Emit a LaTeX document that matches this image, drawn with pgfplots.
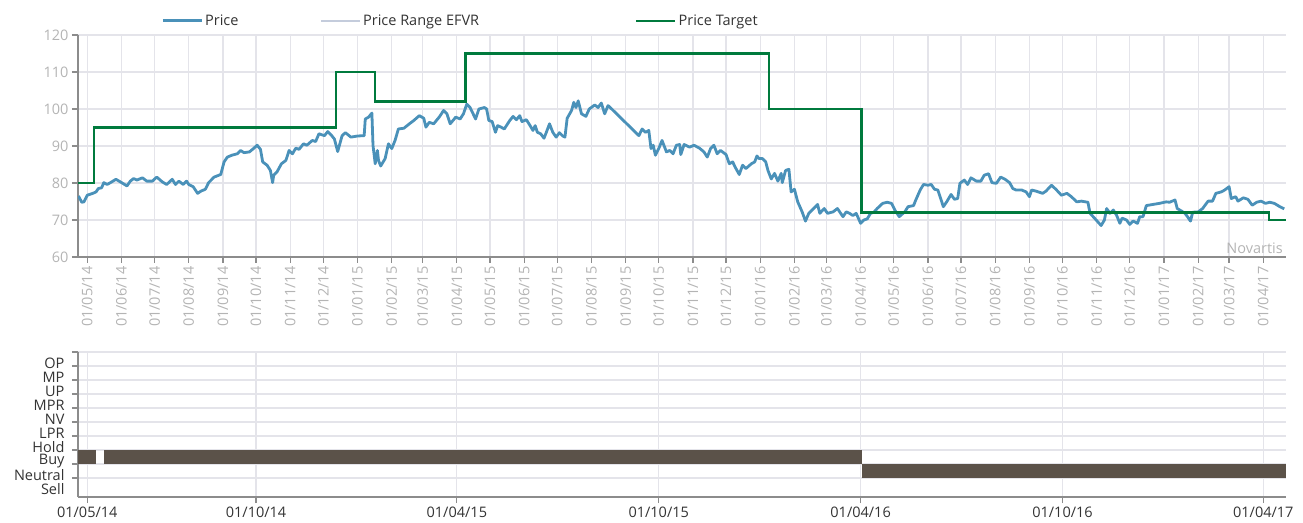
\documentclass[border=0pt]{standalone}
\usepackage{pgfplots}
\pgfplotsset{compat=1.18}
\usepackage{fontspec}
\setmainfont{Open Sans}
\definecolor{pricecol}{RGB}{74,145,185}
\definecolor{targetcol}{RGB}{0,122,61}
\definecolor{rangecol}{RGB}{196,204,220}
\definecolor{gridcol}{RGB}{228,228,234}
\definecolor{axiscol}{RGB}{140,140,140}
\definecolor{lblgray}{RGB}{180,180,180}
\definecolor{lbldark}{RGB}{51,51,51}
\definecolor{barcol}{RGB}{91,82,73}
\newcommand\fs{\fontsize{14.5}{17}\selectfont}
\begin{document}
\begin{tikzpicture}[x=1pt,y=1pt]
\useasboundingbox (0,0) rectangle (1303,522);
\begin{axis}[
  at={(78pt,265pt)}, anchor=south west,
  scale only axis, width=1208pt, height=222pt,
  xmin=-8.4, xmax=1086.6, ymin=60, ymax=120,
  axis x line*=bottom, axis y line*=left,
  axis line style={axiscol, line width=1.2pt},
  tick style={axiscol, line width=1.2pt},
  tick align=outside, major tick length=6pt,
  grid=major, major grid style={gridcol, line width=1.3pt},
  ytick={60,70,...,120},
  yticklabel style={font=\fs, text=lblgray},
  /pgf/number format/assume math mode=true,
  xtick={0,31,61,92,123,153,184,214,245,276,304,335,365,396,426,457,488,518,549,579,610,641,670,701,731,762,792,823,854,884,915,945,976,1007,1035,1066},
  xticklabels={01/05/14,01/06/14,01/07/14,01/08/14,01/09/14,01/10/14,01/11/14,01/12/14,01/01/15,01/02/15,01/03/15,01/04/15,01/05/15,01/06/15,01/07/15,01/08/15,01/09/15,01/10/15,01/11/15,01/12/15,01/01/16,01/02/16,01/03/16,01/04/16,01/05/16,01/06/16,01/07/16,01/08/16,01/09/16,01/10/16,01/11/16,01/12/16,01/01/17,01/02/17,01/03/17,01/04/17},
  xticklabel style={font=\fs, text=lblgray, rotate=90, anchor=east},
  legend columns=3,
  legend image code/.code={\draw[#1] (0pt,0pt) -- (39pt,0pt);},
  legend style={draw=none, fill=none, at={(0.0690,1.0640)}, anchor=west, inner sep=0pt, outer sep=0pt, font=\fs, text=lbldark, nodes={inner sep=2pt}},
  legend cell align=left,
  clip=true,
]
\addplot[pricecol, line width=2.8pt, line join=round] coordinates {
(-8,76.5) (-5,74.8) (-3,74.9) (0,76.7) (5,77.2) (8,77.6) (10,78.5) (13,78.7) (15,80.1) (18,79.6) (21,80.1) (26,81.0) (30,80.3) (36,79.2) (39,80.5) (42,81.2) (45,80.8) (50,81.4) (54,80.5) (59,80.5) (63,81.6) (68,80.3) (72,79.6) (77,81.0) (80,79.6) (83,80.5) (87,79.6) (90,80.5) (92,79.6) (96,79.0) (100,77.2) (103,77.8) (107,78.3) (110,80.1) (115,81.6) (121,82.3) (124,85.7) (127,87.0) (131,87.5) (136,87.9) (139,88.8) (142,88.2) (147,88.4) (151,89.4) (154,90.2) (157,89.1) (159,85.7) (163,84.8) (166,83.4) (168,80.1) (169,82.1) (172,83.0) (176,85.2) (180,86.1) (183,88.8) (186,87.9) (189,89.4) (192,89.1) (196,90.6) (199,90.2) (204,91.5) (207,91.2) (210,93.3) (215,92.8) (218,93.9) (221,93.0) (224,91.9) (227,88.5) (231,92.8) (234,93.6) (239,92.4) (245,92.7) (251,92.8) (252,97.3) (255,97.8) (258,98.9) (259,90.2) (261,85.2) (263,88.8) (264,86.1) (266,84.6) (270,86.6) (273,90.6) (276,89.3) (279,91.5) (282,94.6) (287,94.8) (292,96.0) (296,96.9) (301,98.2) (305,97.5) (307,95.1) (310,96.4) (314,96.0) (319,97.8) (323,99.6) (326,98.7) (329,96.0) (334,97.8) (338,97.3) (341,98.7) (344,101.3) (347,100.4) (352,97.3) (355,100.0) (360,100.4) (362,100.0) (364,96.9) (367,96.6) (370,93.7) (372,95.5) (375,95.1) (378,94.6) (383,96.9) (386,98.0) (389,97.1) (392,98.2) (394,96.6) (398,97.1) (401,95.7) (404,94.2) (406,95.5) (408,93.7) (411,93.3) (414,92.1) (416,93.6) (419,96.0) (422,93.7) (425,92.4) (428,93.6) (431,92.7) (433,92.4) (435,97.5) (439,99.6) (441,101.8) (443,100.4) (445,102.2) (448,98.7) (452,98.0) (455,100.0) (460,101.1) (463,100.4) (466,101.6) (469,98.7) (472,100.9) (473,100.7) (500,92.8) (503,94.6) (506,93.7) (509,94.2) (511,89.3) (513,90.2) (515,87.5) (518,89.3) (521,91.5) (525,88.4) (528,88.8) (531,87.9) (534,90.2) (537,90.4) (538,87.7) (541,90.4) (546,89.7) (550,90.2) (555,89.4) (559,88.4) (562,87.0) (565,89.3) (568,90.2) (571,87.9) (574,88.8) (579,87.7) (582,85.2) (585,85.7) (588,83.9) (591,82.3) (594,84.8) (597,83.9) (602,85.2) (605,85.7) (607,87.3) (609,86.6) (612,86.6) (615,85.7) (617,83.4) (620,81.1) (623,82.6) (626,80.5) (629,82.6) (630,80.1) (633,83.4) (636,83.7) (638,77.6) (641,78.3) (644,74.9) (648,72.2) (651,69.7) (654,71.8) (657,72.7) (662,74.2) (664,71.8) (668,73.1) (671,71.8) (676,72.2) (680,73.1) (685,70.9) (688,72.2) (691,71.8) (694,71.2) (697,71.8) (701,69.1) (704,70.0) (707,70.3) (710,71.8) (713,72.1) (716,73.1) (721,74.5) (725,74.8) (729,74.5) (732,72.7) (736,70.9) (741,72.2) (744,73.6) (749,73.9) (751,75.4) (755,78.1) (758,79.6) (762,79.4) (765,79.6) (768,78.3) (771,78.1) (774,75.4) (776,73.6) (779,74.9) (783,76.9) (786,75.6) (789,75.8) (791,79.9) (795,80.8) (798,79.6) (801,81.4) (806,80.5) (810,80.5) (813,82.1) (817,82.5) (820,80.1) (824,79.9) (828,81.6) (832,81.0) (836,80.1) (839,78.5) (842,78.1) (847,78.1) (851,77.6) (854,76.3) (856,78.1) (860,77.8) (866,77.2) (869,77.8) (874,79.4) (878,78.3) (883,76.7) (888,77.2) (892,76.3) (897,74.9) (901,75.1) (907,74.8) (909,71.8) (913,70.5) (919,68.5) (922,70.0) (924,73.1) (927,71.8) (930,72.7) (933,71.3) (936,69.1) (938,70.5) (942,70.0) (945,68.8) (948,69.7) (952,69.1) (954,70.9) (957,70.9) (960,73.9) (966,74.2) (972,74.5) (978,74.9) (981,74.8) (986,75.4) (988,73.1) (992,72.4) (995,71.8) (998,70.6) (1000,69.7) (1002,72.1) (1007,72.2) (1011,73.1) (1016,75.1) (1020,75.1) (1023,77.2) (1028,77.6) (1031,78.1) (1035,79.0) (1037,75.8) (1041,76.3) (1043,75.1) (1048,76.0) (1052,75.6) (1056,74.0) (1060,74.8) (1064,75.1) (1068,74.5) (1072,74.8) (1076,74.5) (1081,73.6) (1085,73.0)
};
\addlegendentry{\makebox[113pt][l]{Price}}
\addlegendimage{rangecol, line width=2pt}
\addlegendentry{\makebox[270pt][l]{Price Range EFVR}}
\addplot[targetcol, line width=2.5pt, const plot] coordinates {
(-8.4,80) (6,95) (225.5,110) (261,102) (343,115) (618,100) (702,72) (1071,70) (1086.6,70)
};
\addlegendentry{Price Target}
\node[anchor=south east, inner sep=0pt, font=\fs, text=lblgray] at (axis description cs:0.9975,0.012) {Novartis};
\end{axis}
\begin{axis}[
  at={(78pt,25pt)}, anchor=south west,
  scale only axis, width=1208pt, height=145pt,
  xmin=-8.4, xmax=1086.6, ymin=-0.86, ymax=9.5,
  axis x line*=bottom, axis y line*=left,
  axis line style={axiscol, line width=1.2pt},
  tick style={axiscol, line width=1.2pt},
  tick align=outside, major tick length=6pt,
  grid=major, major grid style={gridcol, line width=1.3pt},
  ytick={0.5,1.5,...,9.5}, yticklabels={,,,,,,,,,,},
  extra y ticks={0,1,2,3,4,5,6,7,8,9},
  extra y tick labels={Sell,Neutral,Buy,Hold,LPR,NV,MPR,UP,MP,OP},
  extra y tick style={major tick length=0pt, grid=none, yticklabel style={yshift=-4pt, xshift=-10pt}},
  yticklabel style={font=\fs, text=lbldark},
  xtick={0,153,335,518,701,884,1066},
  xticklabels={01/05/14,01/10/14,01/04/15,01/10/15,01/04/16,01/10/16,01/04/17},
  xticklabel style={font=\fs, text=lbldark},
]
\addplot[fill=barcol, draw=none] coordinates {(-8.4,1.5) (7.9,1.5) (7.9,2.5) (-8.4,2.5)} --cycle;
\addplot[fill=barcol, draw=none] coordinates {(15.1,1.5) (702,1.5) (702,2.5) (15.1,2.5)} --cycle;
\addplot[fill=barcol, draw=none] coordinates {(702,0.5) (1086.6,0.5) (1086.6,1.5) (702,1.5)} --cycle;
\end{axis}
\end{tikzpicture}
\end{document}
